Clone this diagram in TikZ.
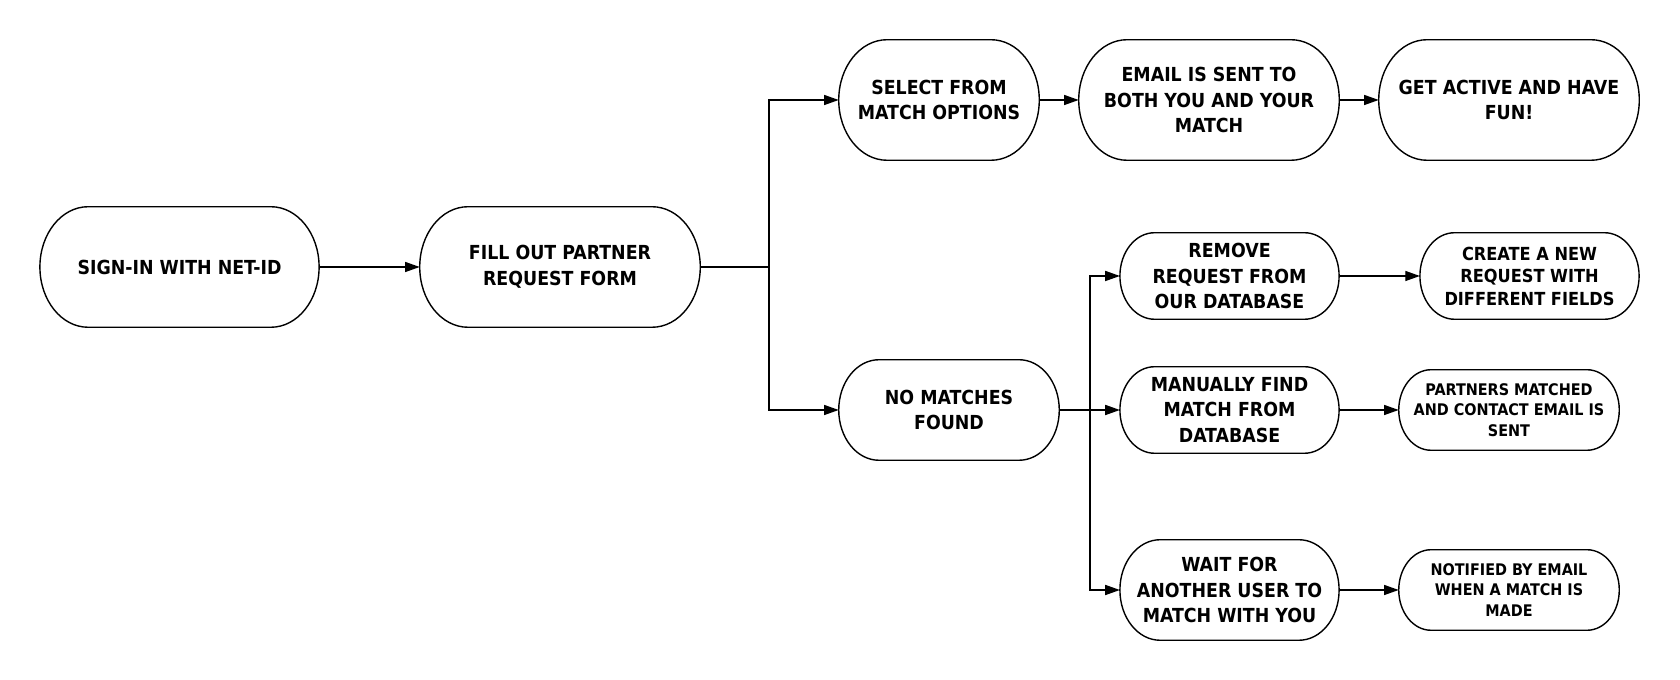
\documentclass[tikz,border=0pt]{standalone}
\usepackage{fontspec}
\setmainfont{DejaVu Sans Condensed}
\usetikzlibrary{arrows.meta,positioning,calc}

\begin{document}
\begin{tikzpicture}[
  x=0.75pt,y=0.75pt,
  line cap=butt,line join=miter,
  stage/.style={align=center,inner sep=2pt,
                font=\bfseries\fontsize{14.5}{19.3}\selectfont},
  tall/.style={stage,minimum height=90pt},
  mid/.style={stage,minimum height=75pt},
  low/.style={stage,minimum height=64.5pt},
  note/.style={stage,minimum height=60pt,
               font=\bfseries\fontsize{12}{15.3}\selectfont},
  outline/.style={draw=black,line width=1.05pt},
  arrow/.style={-{Triangle[length=11pt,width=7.5pt]},line width=1.1pt}
]
\useasboundingbox (0,0) rectangle (1680,680);

% Entry
\node[tall,minimum width=209pt] (signin) at (179.5,413) {SIGN-IN WITH NET-ID};
\node[tall,minimum width=210pt] (form) at (560,413) {FILL OUT PARTNER\\REQUEST FORM};

% Matches found
\node[tall,minimum width=150pt] (select) at (939,580) {SELECT FROM\\MATCH OPTIONS};
\node[tall,minimum width=195pt] (email) at (1209,580) {EMAIL IS SENT TO\\BOTH YOU AND YOUR\\MATCH};
\node[tall,minimum width=195pt] (active) at (1509,580) {GET ACTIVE AND HAVE\\FUN!};

% No matches
\node[mid,minimum width=165pt] (nomatch) at (949,270) {NO MATCHES\\FOUND};
\node[low,minimum width=164pt] (remove) at (1229.5,404) {REMOVE\\REQUEST FROM\\OUR DATABASE};
\node[low,minimum width=164pt,font=\bfseries\fontsize{13.5}{16.9}\selectfont] (create) at (1529.5,404)
  {CREATE A NEW\\REQUEST WITH\\DIFFERENT FIELDS};
\node[low,minimum width=164pt] (manual) at (1229.5,270) {MANUALLY FIND\\MATCH FROM\\DATABASE};
\node[note,minimum width=165pt] (partners) at (1509,270) {PARTNERS MATCHED\\AND CONTACT EMAIL IS\\SENT};
\node[mid,minimum width=164pt] (wait) at (1229.5,90) {WAIT FOR\\ANOTHER USER TO\\MATCH WITH YOU};
\node[note,minimum width=165pt] (notified) at (1509,90) {NOTIFIED BY EMAIL\\WHEN A MATCH IS\\MADE};

% rounded outlines with elliptical ends
\foreach \b in {signin,form,select,email,active,nomatch,remove,create,manual,partners,wait,notified}{
  \draw[outline] let \p1=(\b.north west), \p2=(\b.south east),
      \n1={0.4*(\y1-\y2)}, \n2={0.5*(\y1-\y2)} in
    (\x1+\n1,\y1) -- (\x2-\n1,\y1)
    arc[start angle=90,end angle=-90,x radius=\n1,y radius=\n2]
    -- (\x1+\n1,\y2)
    arc[start angle=270,end angle=90,x radius=\n1,y radius=\n2] -- cycle;
}

\coordinate (fork) at (769,413);
\coordinate (fork2) at (1090,270);

\draw[arrow] (signin) -- (form);
\draw[arrow] (form.east) -- (fork) |- (select.west);
\draw[arrow] (fork) |- (nomatch.west);
\draw[arrow] (nomatch.east) -- (manual.west);
\draw[arrow] (fork2) |- (remove.west);
\draw[arrow] (fork2) |- (wait.west);
\foreach \a/\b in {select/email,email/active,remove/create,manual/partners,wait/notified}{\draw[arrow] (\a) -- (\b);}
\end{tikzpicture}
\end{document}
